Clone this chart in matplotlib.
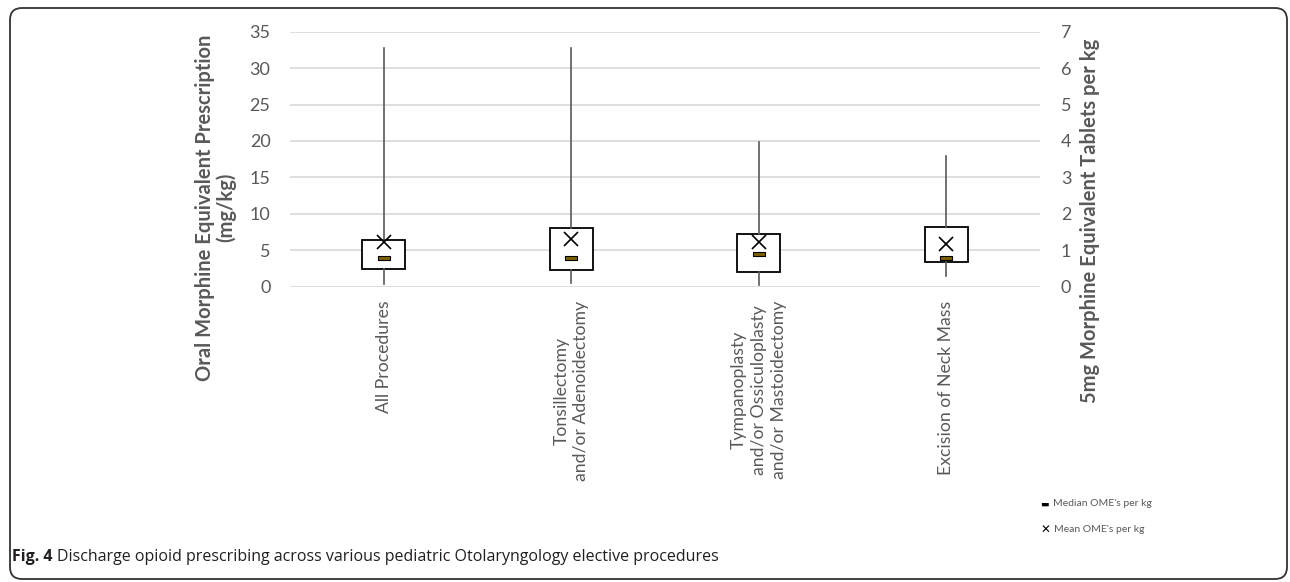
import matplotlib.pyplot as plt
from matplotlib.patches import FancyBboxPatch
from matplotlib.transforms import IdentityTransform

# data (mg/kg OME)
procedures = ['All Procedures',
              'Tonsillectomy\nand/or Adenoidectomy',
              'Tympanoplasty\nand/or Ossiculoplasty\nand/or Mastoidectomy',
              'Excision of Neck Mass']
whisker_low = [0.4, 0.45, 0.3, 1.5]
q1 = [2.4, 2.3, 2.0, 3.35]
median = [4.0, 4.0, 4.5, 4.0]
q3 = [6.4, 8.0, 7.2, 8.2]
whisker_high = [32.7, 32.7, 19.9, 17.9]
mean = [6.1, 6.6, 6.2, 5.8]

left_ticks = [0, 5, 10, 15, 20, 25, 30, 35]
right_ticks = [0, 1, 2, 3, 4, 5, 6, 7]

grey = '#595959'
font = 'Lato'

fig = plt.figure(figsize=(12.9, 5.82), dpi=100)
ax = fig.add_axes([290 / 1290, 1 - 286.7 / 582, 750 / 1290, 255 / 582])

positions = list(range(1, len(procedures) + 1))
stats = []
for i in range(len(procedures)):
    stats.append(dict(med=median[i], q1=q1[i], q3=q3[i],
                      whislo=whisker_low[i], whishi=whisker_high[i],
                      mean=mean[i], fliers=[]))

ax.bxp(stats, positions=positions, widths=0.23, showcaps=False,
       showfliers=False, showmeans=False, patch_artist=True,
       boxprops=dict(facecolor='white', edgecolor='black', linewidth=1.3),
       whiskerprops=dict(color=grey, linewidth=1.2),
       medianprops=dict(linewidth=0), zorder=3)

# median as a small bar, mean as an x
bar = [(-2, -0.6), (2, -0.6), (2, 0.6), (-2, 0.6), (-2, -0.6)]
ax.plot(positions, median, linestyle='none', marker=bar, markersize=9,
        markerfacecolor='#7f6000', markeredgecolor='black',
        markeredgewidth=0.8, zorder=5)
ax.plot(positions, mean, linestyle='none', marker='x', markersize=10,
        color='black', markeredgewidth=1.2, zorder=5)

ax.set_xlim(0.5, len(procedures) + 0.5)
ax.set_ylim(0, 35)
ax.set_yticks(left_ticks)
ax.yaxis.grid(True, color='#d9d9d9', linewidth=1.2)
ax.set_axisbelow(True)
for s in ax.spines.values():
    s.set_visible(False)
ax.tick_params(axis='y', length=0, pad=14, labelsize=13, labelcolor=grey)
ax.tick_params(axis='x', length=0, pad=10)
ax.set_xticks(positions)
ax.set_xticklabels(procedures, rotation=90, ha='center', va='top',
                   multialignment='center', fontsize=12.7, color=grey,
                   family=font, linespacing=1.3)
for t in ax.get_yticklabels():
    t.set_family(font)

ax.set_ylabel("Oral Morphine Equivalent Prescription\n(mg/kg)",
              fontsize=14.5, fontweight='bold', color=grey, family=font,
              linespacing=1.0)
ax.yaxis.set_label_coords(-0.072, 0.31)

ax2 = ax.twinx()
ax2.set_ylim(0, 7)
ax2.set_yticks(right_ticks)
for s in ax2.spines.values():
    s.set_visible(False)
ax2.tick_params(axis='y', length=0, pad=15, labelsize=13, labelcolor=grey)
for t in ax2.get_yticklabels():
    t.set_family(font)
ax2.set_ylabel("5mg Morphine Equivalent Tablets per kg", fontsize=14.5,
               fontweight='bold', color=grey, family=font)
ax2.yaxis.set_label_coords(1.053, 0.26)

# legend drawn as figure text
fig.text(1040 / 1290, 1 - 504 / 582, '\u25ac', fontsize=6.5, color='black',
         va='center', ha='left', family='DejaVu Sans')
fig.text(1053 / 1290, 1 - 504 / 582, "Median OME's per kg", fontsize=7.5,
         color=grey, va='center', ha='left', family=font)
fig.text(1041 / 1290, 1 - 530 / 582, '\u2715', fontsize=8.5, color='black',
         va='center', ha='left', family='DejaVu Sans')
fig.text(1054 / 1290, 1 - 530 / 582, "Mean OME's per kg", fontsize=7.5,
         color=grey, va='center', ha='left', family=font)

# caption
cap_y = 1 - 557 / 582
t1 = fig.text(12 / 1290, cap_y, 'Fig. 4', fontsize=11.5, fontweight='bold',
              color='#231f20', va='center', ha='left', family='Open Sans')
fig.canvas.draw()
bb = t1.get_window_extent()
fig.text((bb.x1 + 4) / 1290, cap_y,
         'Discharge opioid prescribing across various pediatric '
         'Otolaryngology elective procedures',
         fontsize=11.5, color='#231f20', va='center', ha='left',
         family='Open Sans')

# rounded frame
frame = FancyBboxPatch((10, 3), 1277, 571, boxstyle='round,pad=0,rounding_size=12',
                       transform=IdentityTransform(), fill=False,
                       edgecolor='#333333', linewidth=1.3)
fig.patches.append(frame)

fig.savefig('out.png', dpi=100)
